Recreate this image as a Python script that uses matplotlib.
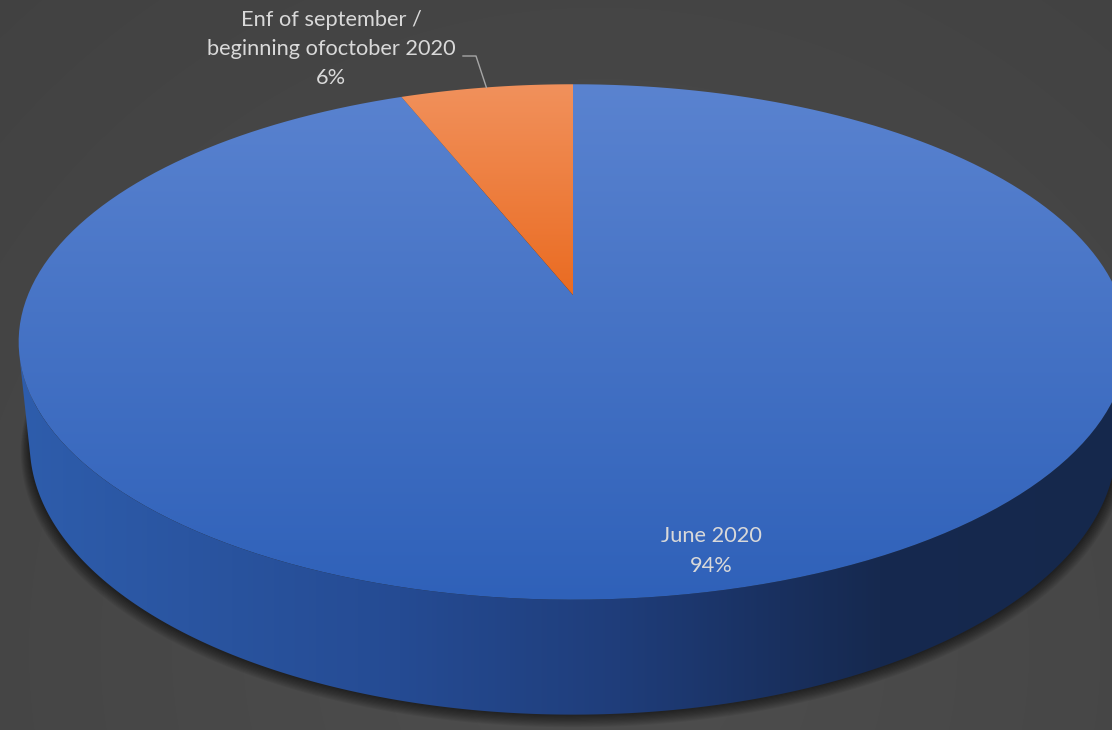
import numpy as np
import matplotlib
matplotlib.use('Agg')
import matplotlib.pyplot as plt
from matplotlib.patches import Polygon

# chart data
labels = ['June 2020', 'Enf of september /\nbeginning ofoctober 2020']
shares = [94, 6]

W, H_PX = 1112, 730

# simple perspective camera for the Excel-like 3D pie
tilt = np.radians(27.2)
s, c = np.sin(tilt), np.cos(tilt)
D = 4.88          # camera distance (radius = 1)
F = 2660.0        # focal length in px
thick = 0.211     # pie height
cx, cy = 573, 295


def project(X, Y, Z):
    depth = D - Y * s + Z * c
    return cx + F * X / depth, cy - F * (Y * c + Z * s) / depth


def arc(a0, a1, y, n=200):
    phi = np.radians(np.linspace(a0, a1, n))
    px, py = project(np.sin(phi), np.full_like(phi, y), np.cos(phi))
    return np.column_stack([px, py])


def gradient_patch(ax, verts, img, z):
    poly = Polygon(verts, closed=True, facecolor='none', edgecolor='none', zorder=z)
    ax.add_patch(poly)
    im = ax.imshow(img, extent=(0, W, H_PX, 0), origin='upper', aspect='auto',
                   interpolation='bilinear', zorder=z)
    im.set_clip_path(poly)


def ramp(pos, stops, colors):
    colors = np.array(colors) / 255.0
    return np.stack([np.interp(pos, stops, colors[:, k]) for k in range(3)], axis=-1)


fig = plt.figure(figsize=(W / 100, H_PX / 100), dpi=100)
ax = fig.add_axes([0, 0, 1, 1])

# background
yy, xx = np.mgrid[0:H_PX, 0:W]
dist = np.hypot(xx - 600, yy - 650)
v = (64 + 14 * np.clip(1 - dist / 1000, 0, 1)) / 255.0
ax.imshow(np.dstack([v, v, v]), extent=(0, W, H_PX, 0), origin='upper',
          aspect='auto', zorder=0)

# soft shadow under the pie
bottom = arc(0, 360, -thick, 400)
bcx, bcy = bottom[:, 0].mean(), bottom[:, 1].mean()
for k in range(1, 12):
    sc = 1 + 0.0015 * k
    pts = np.column_stack([bcx + (bottom[:, 0] - bcx) * sc,
                           bcy + (bottom[:, 1] - bcy) * sc + 0.7 * k])
    ax.add_patch(Polygon(pts, closed=True, facecolor='black', edgecolor='none',
                         alpha=0.06, zorder=1))

# slice angles, clockwise from 12 o'clock
ends = np.cumsum(shares) / np.sum(shares) * 360
starts = np.concatenate([[0], ends[:-1]])

# visible part of the side wall
phi_vis = np.degrees(np.arccos(-1 / (D * c)))
xgrid = np.arange(W)
side_img = ramp(xgrid, [20, 400, 620, 780, 880, 1112],
                [(46, 93, 172), (37, 75, 147), (31, 61, 122), (25, 48, 95),
                 (22, 41, 79), (21, 40, 76)])[None, :, :]
for a0, a1 in zip(starts, ends):
    lo, hi = max(a0, phi_vis), min(a1, 360 - phi_vis)
    if hi <= lo:
        continue
    top_edge = arc(lo, hi, 0)
    bot_edge = arc(lo, hi, -thick)[::-1]
    gradient_patch(ax, np.vstack([top_edge, bot_edge]), side_img, 2)

# top faces
ygrid = np.arange(H_PX)
top_imgs = [
    ramp(ygrid, [84, 600], [(90, 131, 208), (47, 97, 185)]),
    ramp(ygrid, [84, 295], [(241, 145, 92), (234, 107, 33)]),
]
apex = np.array(project(0, 0, 0))
for a0, a1, img in zip(starts, ends, top_imgs):
    verts = np.vstack([apex, arc(a0, a1, 0)])
    gradient_patch(ax, verts, np.repeat(img[:, None, :], 2, axis=1), 3)

# labels
txt = dict(color='#d9d9d9', fontsize=15.7, family='Lato', ha='center',
           va='center', linespacing=1.58, zorder=5)
ax.text(711, 551, f'{labels[0]}\n{shares[0]}%', **txt)
ax.text(331, 49, f'{labels[1]}\n{shares[1]}%', **txt)

# leader line to the small slice
mid = np.radians((starts[1] + ends[1]) / 2)
ex, ey = project(np.sin(mid), 0, np.cos(mid))
ax.plot([463, 476, ex], [56, 56, ey], color='#a6a6a6', lw=1, zorder=4)

ax.set_xlim(0, W)
ax.set_ylim(H_PX, 0)
ax.axis('off')
fig.savefig('out.png', dpi=100)
